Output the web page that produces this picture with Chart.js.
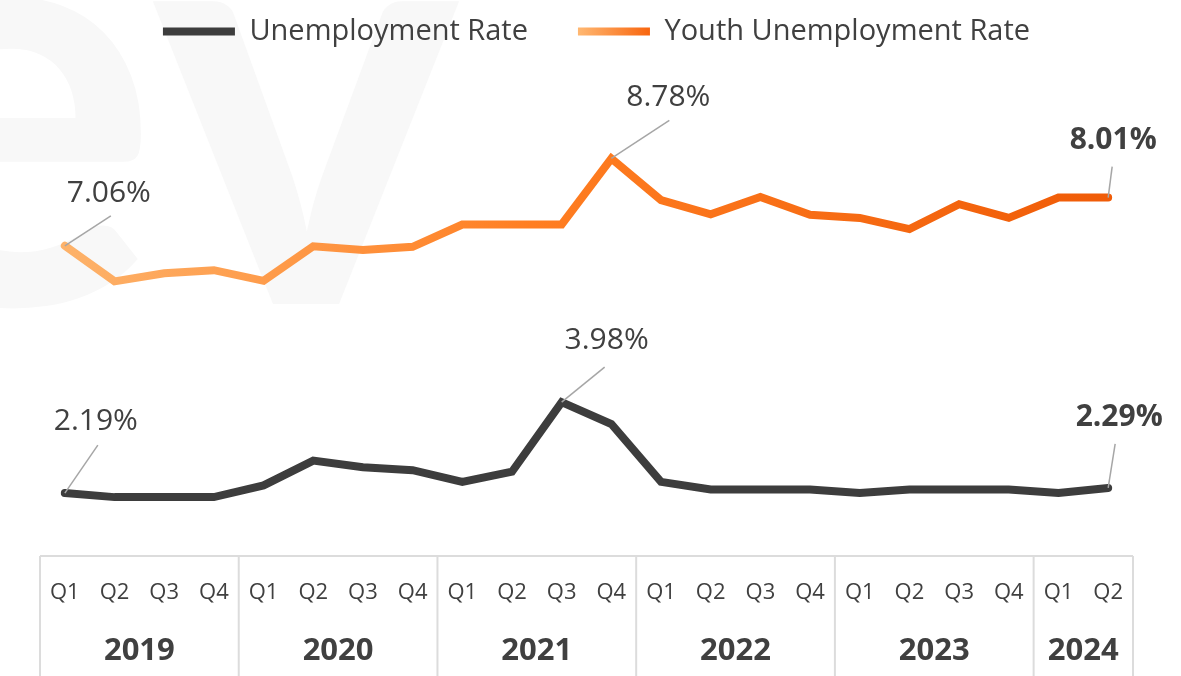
<!DOCTYPE html>
<html>
<head>
<meta charset="utf-8">
<script src="https://cdn.jsdelivr.net/npm/chart.js@4.4.1/dist/chart.umd.min.js"></script>
<style>
  html, body { margin: 0; padding: 0; background: #fff; }
  #wrap { width: 1181px; height: 676px; position: relative; }
</style>
</head>
<body>
<div id="wrap"><canvas id="chart"></canvas></div>
<script>
// Datos
var quarters = ['Q1', 'Q2', 'Q3', 'Q4', 'Q1', 'Q2', 'Q3', 'Q4', 'Q1', 'Q2', 'Q3', 'Q4',
                'Q1', 'Q2', 'Q3', 'Q4', 'Q1', 'Q2', 'Q3', 'Q4', 'Q1', 'Q2'];
var yearLabels = ['2019', '2020', '2021', '2022', '2023', '2024'];
var quartersInYear = [4, 4, 4, 4, 4, 2];

var unemploymentRate = [2.19, 2.11, 2.11, 2.11, 2.34, 2.83, 2.70, 2.64, 2.41, 2.61, 3.98,
                        3.55, 2.41, 2.26, 2.26, 2.26, 2.19, 2.26, 2.26, 2.26, 2.19, 2.29];
var youthUnemploymentRate = [7.06, 6.36, 6.52, 6.58, 6.37, 7.05, 6.98, 7.04, 7.48, 7.48, 7.48,
                             8.78, 7.96, 7.68, 8.02, 7.67, 7.61, 7.39, 7.88, 7.61, 8.01, 8.01];

// categorias "2019 Q1" ...
var categories = [];
yearLabels.forEach(function (y, k) {
    for (var q = 0; q < quartersInYear[k]; q++) {
        categories.push(y + ' ' + quarters[categories.length]);
    }
});

// etiquetas con linea guia (dataset, indice, desplazamientos)
var callouts = [
    { ds: 1, i: 0,  lineTo: [46, -30], text: [44, -52], bold: false },
    { ds: 1, i: 11, lineTo: [58, -38], text: [57, -61], bold: false },
    { ds: 1, i: 21, lineTo: [4, -31],  text: [5, -57],  bold: true },
    { ds: 0, i: 0,  lineTo: [33, -48], text: [31, -72], bold: false },
    { ds: 0, i: 10, lineTo: [43, -35], text: [45, -62], bold: false },
    { ds: 0, i: 21, lineTo: [7, -44],  text: [11, -71], bold: true }
];

var textColor = '#404040';
Chart.defaults.font.family = "'Open Sans', sans-serif";
Chart.defaults.color = textColor;

function orangeGradient(context) {
    var chart = context.chart;
    var area = chart.chartArea;
    if (!area) return '#ff8a33';
    var g = chart.ctx.createLinearGradient(area.left, 0, area.right, 0);
    g.addColorStop(0, '#fdb56e');
    g.addColorStop(0.45, '#ff7e22');
    g.addColorStop(1, '#ef5a06');
    return g;
}

// marca de agua, fondo
var background = {
    id: 'background',
    beforeDraw: function (chart) {
        var ctx = chart.ctx;
        ctx.save();
        ctx.fillStyle = '#ffffff';
        ctx.fillRect(0, 0, chart.width, chart.height);
        ctx.fillStyle = '#f8f8f8';
        ctx.font = 'bold 590px Lato';
        ctx.textAlign = 'center';
        ctx.textBaseline = 'alphabetic';
        ctx.fillText('e', 2, 304);
        ctx.fillText('v', 306, 304);
        ctx.restore();
    }
};

// ajustar leyenda
var legendTweak = {
    id: 'legendTweak',
    beforeInit: function (chart) {
        var fit = chart.legend.fit;
        chart.legend.fit = function () {
            fit.call(this);
            this.height = 60;
        };
    },
    afterLayout: function (chart) {
        var lg = chart.legend;
        lg.top -= 33;
        lg.height += 33;
        lg.left += 10;
        lg.right += 10;
    },
    afterUpdate: function (chart) {
        // degradado en la muestra naranja de la leyenda
        var lg = chart.legend;
        var box = lg.legendHitBoxes && lg.legendHitBoxes[1];
        if (!box || !lg.legendItems[1]) return;
        var g = chart.ctx.createLinearGradient(box.left, 0, box.left + 72, 0);
        g.addColorStop(0, '#ffb872');
        g.addColorStop(1, '#f8650e');
        lg.legendItems[1].strokeStyle = g;
    }
};

// tabla del eje x con años
var yearTable = {
    id: 'yearTable',
    afterDraw: function (chart) {
        var ctx = chart.ctx;
        var x = chart.scales.x;
        var half = (x.getPixelForValue(1) - x.getPixelForValue(0)) / 2;
        var top = chart.chartArea.bottom + 1;
        ctx.save();
        ctx.strokeStyle = '#dcdcdc';
        ctx.lineWidth = 2;
        ctx.beginPath();
        ctx.moveTo(x.getPixelForValue(0) - half, top);
        ctx.lineTo(x.getPixelForValue(categories.length - 1) + half, top);
        var start = 0;
        var bounds = [start];
        quartersInYear.forEach(function (n) { start += n; bounds.push(start); });
        bounds.forEach(function (b) {
            var px = b < categories.length ? x.getPixelForValue(b) - half : x.getPixelForValue(b - 1) + half;
            ctx.moveTo(px, top);
            ctx.lineTo(px, chart.height);
        });
        ctx.stroke();

        ctx.fillStyle = textColor;
        ctx.font = 'bold 31px "Open Sans"';
        ctx.textAlign = 'center';
        ctx.textBaseline = 'middle';
        for (var k = 0; k < yearLabels.length; k++) {
            var first = bounds[k], last = bounds[k + 1] - 1;
            var cx = (x.getPixelForValue(first) + x.getPixelForValue(last)) / 2;
            ctx.fillText(yearLabels[k], cx, 651);
        }
        ctx.restore();
    }
};

// valores destacados
var calloutLabels = {
    id: 'calloutLabels',
    afterDatasetsDraw: function (chart) {
        var ctx = chart.ctx;
        ctx.save();
        callouts.forEach(function (c) {
            var pt = chart.getDatasetMeta(c.ds).data[c.i];
            var value = chart.data.datasets[c.ds].data[c.i];
            ctx.strokeStyle = '#a6a6a6';
            ctx.lineWidth = 1.5;
            ctx.beginPath();
            ctx.moveTo(pt.x, pt.y);
            ctx.lineTo(pt.x + c.lineTo[0], pt.y + c.lineTo[1]);
            ctx.stroke();
            ctx.fillStyle = textColor;
            ctx.font = (c.bold ? 'bold ' : '') + '30px "Open Sans"';
            ctx.textAlign = 'center';
            ctx.textBaseline = 'middle';
            ctx.fillText(value.toFixed(2) + '%', pt.x + c.text[0], pt.y + c.text[1]);
        });
        ctx.restore();
    }
};

var ctx = document.getElementById('chart').getContext('2d');
var myChart = new Chart(ctx, {
    type: 'line',
    data: {
        labels: categories,
        datasets: [{
            label: 'Unemployment Rate',
            data: unemploymentRate,
            borderColor: '#3d3d3d',
            backgroundColor: '#3d3d3d',
            borderWidth: 8,
            borderCapStyle: 'round',
            borderJoinStyle: 'miter',
            pointRadius: 0,
            pointStyle: 'line',
            tension: 0
        }, {
            label: 'Youth Unemployment Rate',
            data: youthUnemploymentRate,
            borderColor: orangeGradient,
            backgroundColor: '#ff8a33',
            borderWidth: 8,
            borderCapStyle: 'round',
            borderJoinStyle: 'miter',
            pointRadius: 0,
            pointStyle: 'line',
            tension: 0
        }]
    },
    options: {
        responsive: true,
        maintainAspectRatio: false,
        animation: false,
        layout: { padding: { left: 40, right: 48, top: 0, bottom: 0 } },
        plugins: {
            legend: {
                position: 'top',
                labels: {
                    usePointStyle: true,
                    pointStyle: 'line',
                    pointStyleWidth: 72,
                    boxHeight: 8,
                    padding: 50,
                    color: textColor,
                    font: { size: 29 }
                }
            },
            tooltip: { enabled: false }
        },
        scales: {
            x: {
                offset: true,
                grid: { display: false, drawTicks: false },
                border: { display: false },
                ticks: {
                    autoSkip: false,
                    maxRotation: 0,
                    padding: 25,
                    color: textColor,
                    font: { size: 22 },
                    callback: function (v, i) { return quarters[i]; }
                },
                afterFit: function (scale) { scale.height = 121; }
            },
            y: {
                display: false,
                min: 0.97,
                max: 10.72
            }
        }
    },
    plugins: [background, legendTweak, yearTable, calloutLabels]
});
</script>
</body>
</html>
